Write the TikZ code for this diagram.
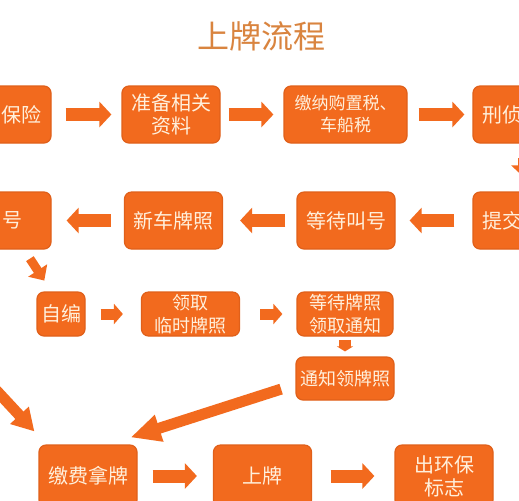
\documentclass[tikz,border=0pt]{standalone}
\usepackage{fontspec}
\usepackage{tikz}
\usetikzlibrary{positioning, calc, arrows.meta}
\newfontfamily\cjk{Noto Sans CJK SC}
\definecolor{plateorange}{HTML}{F26A1E}
\definecolor{plateedge}{HTML}{E0601A}
\definecolor{platetext}{HTML}{FFF0DC}
\definecolor{titleorange}{HTML}{D9843F}

\begin{document}
\begin{tikzpicture}[
        x=0.5pt, y=-0.5pt,
        box/.style={
            rectangle,
            rounded corners=3.5pt,
            draw=plateedge,
            line width=0.6pt,
            fill=plateorange,
            text=platetext,
            align=center,
            minimum width=49pt,
            minimum height=28.5pt,
            inner sep=2pt,
            font=\cjk\fontsize{10}{11.5}\selectfont
        },
        smallbox/.style={
            box,
            minimum height=22pt,
            inner ysep=0pt,
            font=\cjk\fontsize{9}{11.5}\selectfont
        },
        heading/.style={
            text=titleorange,
            font=\cjk\fontsize{16}{16}\selectfont
        },
        flow/.style={
            draw=plateorange,
            line width=6.5pt,
            -{Triangle[length=6pt, width=12.5pt]}
        },
        flowsmall/.style={
            draw=plateorange,
            line width=5.5pt,
            -{Triangle[length=4.5pt, width=10pt]}
        },
        slant/.style={
            draw=plateorange,
            line width=4.5pt,
            -{Triangle[length=6pt, width=11pt]}
        },
        longflow/.style={
            draw=plateorange,
            line width=5.5pt,
            -{Triangle[length=15pt, width=13pt]}
        }
    ]

        % Frame of the picture
        \useasboundingbox (0,0) rectangle (519,500);
        \fill[white] (0,0) rectangle (519,500);
        \clip (0,0) rectangle (519,500);

        % Title
        \node[heading] (title) at (261,36) {上牌流程};

        % First row
        \node[box, inner xsep=4.5pt, text width=40pt, align=right] (insure) at (2,114.5) {保险};
        \node[box] (papers) at (171,114.5) {准备相关\\资料};
        \node[box, minimum width=61.5pt, font=\cjk\fontsize{8.5}{11}\selectfont] (tax) at (345.5,114.5) {缴纳购置税、\\车船税};
        \node[box, inner xsep=4.5pt, text width=42pt, align=left] (inspect) at (524,114.5) {刑侦};
        \draw[flow, shorten <=7pt, shorten >=5pt] (insure.east) -- (papers.west);
        \draw[flow, shorten <=4pt, shorten >=5pt] (papers.east) -- (tax.west);
        \draw[flow, shorten <=5.5pt, shorten >=4pt] (tax.east) -- (inspect.west);

        % Second row, going back to the left
        \node[box, inner xsep=14pt, text width=21pt, align=right] (callno) at (2,220.5) {号};
        \node[box] (newplate) at (173.5,220.5) {新车牌照};
        \node[box] (waitcall) at (346,220.5) {等待叫号};
        \node[box, inner xsep=4.5pt, text width=42pt, align=left] (submit) at (524,220.5) {提交};
        \draw[flow, shorten <=7pt, shorten >=7pt] (inspect.south) -- (submit.north);
        \draw[flow, shorten <=9pt, shorten >=7pt] (submit.west) -- (waitcall.east);
        \draw[flow, shorten <=5.5pt, shorten >=8.5pt] (waitcall.west) -- (newplate.east);
        \draw[flow, shorten <=6.5pt, shorten >=7.5pt] (newplate.west) -- (callno.east);

        % Third row
        \node[smallbox, minimum width=24pt, font=\cjk\fontsize{10}{11.5}\selectfont] (selfpick) at (61,314) {自编};
        \node[smallbox] (temp) at (190.5,314) {领取\\临时牌照};
        \node[smallbox, minimum width=48pt] (waitnotice) at (345,314) {等待牌照\\领取通知};
        \node[smallbox, minimum width=48.5pt, minimum height=21.5pt] (notice) at (345,378.5) {通知领牌照};
        \draw[slant, shorten <=5.4pt, shorten >=6.5pt] ([xshift=11pt]callno.south) -- ([xshift=7.5pt]selfpick.north west);
        \draw[flowsmall, shorten <=7.5pt, shorten >=9pt] (selfpick.east) -- (temp.west);
        \draw[flowsmall, shorten <=10pt, shorten >=7pt] (temp.east) -- (waitnotice.west);
        \draw[draw=plateorange, line width=6pt, -{Triangle[length=2.5pt, width=8pt]}, shorten <=1.5pt, shorten >=2.5pt] (waitnotice.south) -- (notice.north);

        % Last row
        \node[box, minimum height=31pt] (pay) at (88,476) {缴费拿牌};
        \node[box, minimum height=31pt] (mount) at (262.5,476) {上牌};
        \node[box, minimum height=31pt] (eco) at (444,476) {出环保\\标志};
        \coordinate (offleft) at (-30,362);
        \draw[longflow, shorten <=7.5pt] ([yshift=-3pt]notice.west) -- ([shift={(-3.5pt,3.5pt)}]pay.north east);
        \draw[longflow, -{Triangle[length=11pt, width=12pt]}] (offleft) -- ([shift={(-2pt,6.5pt)}]pay.north west);
        \draw[flow, shorten <=7.5pt, shorten >=8pt] (pay.east) -- (mount.west);
        \draw[flow, shorten <=9.25pt, shorten >=10pt] (mount.east) -- (eco.west);

    \end{tikzpicture}
\end{document}
